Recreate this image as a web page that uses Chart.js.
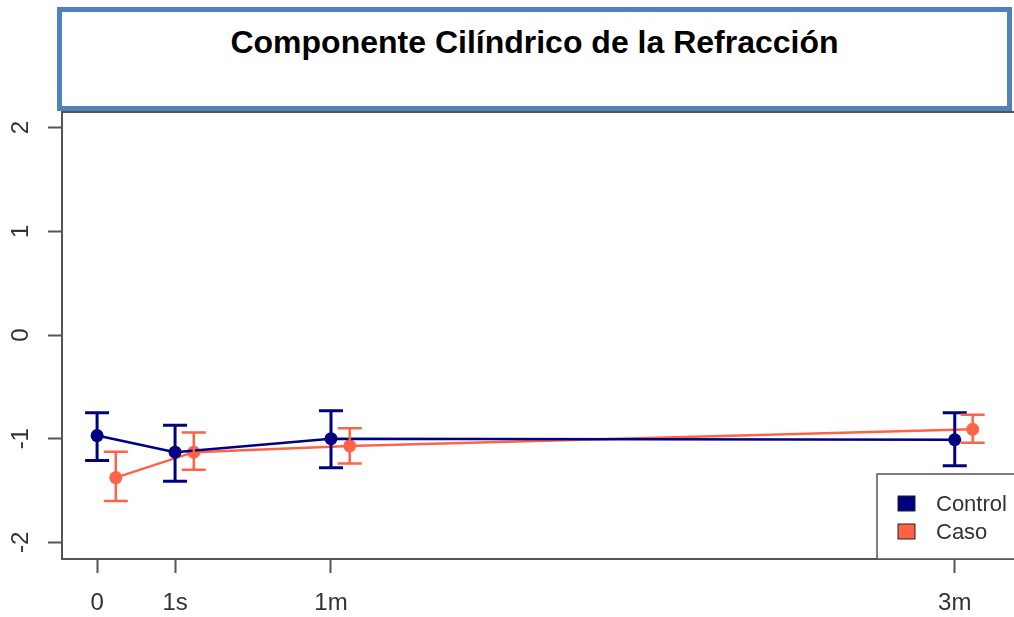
<!DOCTYPE html>
<html>
<head>
<meta charset="utf-8">
<script src="https://cdn.jsdelivr.net/npm/chart.js@4/dist/chart.umd.min.js"></script>
<style>
  html, body { margin: 0; padding: 0; background: #fff; overflow: hidden; }
  #wrap { position: relative; width: 1014px; height: 617px; }
  #title {
    position: absolute; left: 57px; top: 7px; width: 955px; height: 104px;
    box-sizing: border-box; border: 5px solid #4f81bd; background: #fff;
    font: bold 32px "Liberation Sans", Arial, sans-serif; color: #000;
    text-align: center; line-height: 34px; padding-top: 13px; z-index: 2;
  }
</style>
</head>
<body>
<div id="wrap">
  <div id="title">Componente Cilíndrico de la Refracción</div>
  <canvas id="cylChart" width="1014" height="617"></canvas>
</div>
<script>
// DATA
const seriesNames = ['Control', 'Caso'];
const xTickValues = [0, 1, 3, 11];
const xTickLabels = ['0', '1s', '1m', '3m'];
const yTickValues = [-2, -1, 0, 1, 2];

const controlX = [0, 1, 3, 11];
const controlMean = [-0.97, -1.13, -1.00, -1.01];
const controlLow = [-1.21, -1.41, -1.28, -1.26];
const controlHigh = [-0.75, -0.87, -0.73, -0.75];

const casoX = [0.24, 1.24, 3.24, 11.23];
const casoMean = [-1.375, -1.13, -1.07, -0.91];
const casoLow = [-1.60, -1.30, -1.24, -1.04];
const casoHigh = [-1.125, -0.94, -0.90, -0.77];

const navy = '#000080';
const tomato = '#ff6347';
const axisGrey = '#555';
const font = '"Liberation Sans", Arial, sans-serif';

const toPoints = (xs, ys) => xs.map((x, i) => ({ x: x, y: ys[i] }));

// error bars, frame, rotated y labels and legend box
const extras = {
    id: 'extras',
    afterDatasetsDraw(chart) {
        const ctx = chart.ctx;
        const xs = chart.scales.x, ys = chart.scales.y;
        const bars = [
            { x: controlX, lo: controlLow, hi: controlHigh, color: navy, lw: 3 },
            { x: casoX, lo: casoLow, hi: casoHigh, color: tomato, lw: 2.5 }
        ];
        ctx.save();
        bars.forEach(b => {
            ctx.strokeStyle = b.color;
            ctx.lineWidth = b.lw;
            b.x.forEach((xv, i) => {
                const px = xs.getPixelForValue(xv);
                const y1 = ys.getPixelForValue(b.hi[i]);
                const y2 = ys.getPixelForValue(b.lo[i]);
                ctx.beginPath();
                ctx.moveTo(px, y1); ctx.lineTo(px, y2);
                ctx.moveTo(px - 12, y1); ctx.lineTo(px + 12, y1);
                ctx.moveTo(px - 12, y2); ctx.lineTo(px + 12, y2);
                ctx.stroke();
            });
        });
        ctx.restore();
    },
    afterDraw(chart) {
        const ctx = chart.ctx;
        const a = chart.chartArea;
        const ys = chart.scales.y;
        ctx.save();
        // top frame line
        ctx.strokeStyle = axisGrey;
        ctx.lineWidth = 2;
        ctx.beginPath();
        ctx.moveTo(a.left, a.top + 1); ctx.lineTo(a.right, a.top + 1);
        ctx.stroke();
        // rotated y tick labels
        ctx.fillStyle = '#333';
        ctx.font = '24px ' + font;
        ctx.textAlign = 'center';
        ctx.textBaseline = 'middle';
        ys.ticks.forEach(t => {
            const py = ys.getPixelForValue(t.value);
            ctx.save();
            ctx.translate(21, py);
            ctx.rotate(-Math.PI / 2);
            ctx.fillText(String(t.value), 0, 0);
            ctx.restore();
        });
        // legend
        const lx = a.right - 137, ly = a.bottom - 85;
        ctx.fillStyle = '#fff';
        ctx.fillRect(lx, ly, 200, 85);
        ctx.strokeStyle = axisGrey;
        ctx.lineWidth = 1.5;
        ctx.strokeRect(lx, ly, 200, 85);
        const cols = [navy, tomato];
        ctx.font = '22px ' + font;
        ctx.textAlign = 'left';
        seriesNames.forEach((name, i) => {
            const cy = ly + 30 + i * 28;
            ctx.fillStyle = cols[i];
            ctx.fillRect(lx + 21, cy - 8, 17, 15);
            ctx.strokeStyle = '#222';
            ctx.lineWidth = 1;
            ctx.strokeRect(lx + 21, cy - 8, 17, 15);
            ctx.fillStyle = '#333';
            ctx.fillText(name, lx + 59, cy + 1);
        });
        ctx.restore();
    }
};

new Chart(document.getElementById('cylChart'), {
    type: 'scatter',
    data: {
        datasets: [{
            label: seriesNames[0],
            data: toPoints(controlX, controlMean),
            showLine: true,
            borderColor: navy,
            backgroundColor: navy,
            borderWidth: 2.5,
            pointRadius: 6.5,
            pointBorderWidth: 0,
            pointHoverRadius: 6.5
        }, {
            label: seriesNames[1],
            data: toPoints(casoX, casoMean),
            showLine: true,
            borderColor: tomato,
            backgroundColor: tomato,
            borderWidth: 2.5,
            pointRadius: 6.5,
            pointBorderWidth: 0,
            pointHoverRadius: 6.5
        }]
    },
    options: {
        responsive: false,
        animation: false,
        layout: { autoPadding: false, padding: { top: 111, right: 0, left: 0, bottom: 0 } },
        scales: {
            x: {
                type: 'linear',
                min: -0.45,
                max: 11.76,
                afterBuildTicks: s => { s.ticks = xTickValues.map(v => ({ value: v })); },
                afterFit: s => { s.height = 58; s.paddingLeft = 0; s.paddingRight = 0; },
                ticks: {
                    color: '#333',
                    font: { family: font, size: 24 },
                    padding: 16,
                    maxRotation: 0,
                    callback: v => xTickLabels[xTickValues.indexOf(v)]
                },
                grid: { drawOnChartArea: false, tickLength: 14, color: axisGrey, tickWidth: 2 },
                border: { color: axisGrey, width: 2 }
            },
            y: {
                min: -2.16,
                max: 2.16,
                afterBuildTicks: s => { s.ticks = yTickValues.map(v => ({ value: v })); },
                afterFit: s => { s.width = 62; s.paddingTop = 0; s.paddingBottom = 0; },
                ticks: { color: 'rgba(0,0,0,0)', font: { family: font, size: 18 } },
                grid: { drawOnChartArea: false, tickLength: 14, color: axisGrey, tickWidth: 2 },
                border: { color: axisGrey, width: 2 }
            }
        },
        plugins: {
            legend: { display: false },
            title: { display: false },
            tooltip: { enabled: false }
        }
    },
    plugins: [extras]
});
</script>
</body>
</html>
